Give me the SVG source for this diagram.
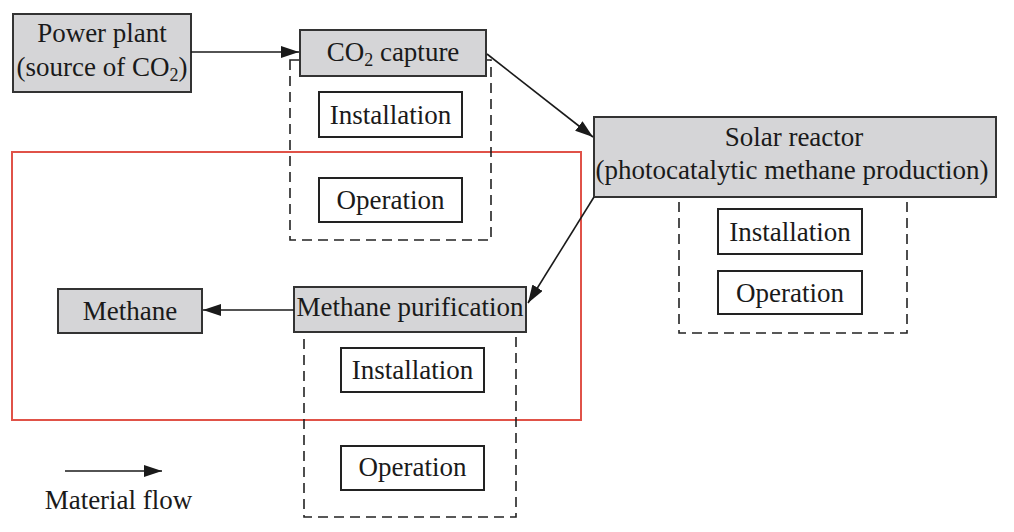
<svg xmlns="http://www.w3.org/2000/svg" width="1014" height="532" viewBox="0 0 1014 532">
<defs>
<marker id="ah" markerUnits="userSpaceOnUse" markerWidth="20" markerHeight="12" refX="18" refY="6" orient="auto">
<path d="M0,0 L18,6 L0,12 z" fill="#1a1a1a"/>
</marker>
</defs>
<rect x="12" y="152" width="569" height="268" fill="none" stroke="#e05248" stroke-width="2"/>
<g fill="none" stroke="#222" stroke-width="1.6" stroke-dasharray="10,6">
<rect x="290" y="60" width="201" height="180"/>
<rect x="679" y="190" width="228" height="143"/>
<rect x="304" y="325" width="212" height="192"/>
</g>
<g font-family="Liberation Serif" font-size="27" fill="#1a1a1a" text-anchor="middle">
<g id="co2-capture">
<rect x="300" y="30" width="186" height="46" fill="#d5d5d7" stroke="#333" stroke-width="2"/>
<text x="393" y="61">CO<tspan font-size="18" dy="5">2</tspan><tspan dy="-5"> capture</tspan></text>
<rect x="319" y="92" width="143" height="45" fill="#fff" stroke="#222" stroke-width="2"/>
<text x="390.5" y="124">Installation</text>
<rect x="319" y="178" width="143" height="44" fill="#fff" stroke="#222" stroke-width="2"/>
<text x="390.5" y="209">Operation</text>
</g>
<g id="power-plant">
<rect x="13" y="14" width="178" height="78" fill="#d5d5d7" stroke="#333" stroke-width="2"/>
<text x="102" y="42">Power plant</text>
<text x="102" y="76">(source of CO<tspan font-size="18" dy="5">2</tspan><tspan dy="-5">)</tspan></text>
</g>
<g id="solar-reactor">
<rect x="594" y="117" width="402" height="80" fill="#d5d5d7" stroke="#333" stroke-width="2"/>
<text x="794" y="146">Solar reactor</text>
<text x="792" y="179">(photocatalytic methane production)</text>
<rect x="718" y="209" width="144" height="45" fill="#fff" stroke="#222" stroke-width="2"/>
<text x="790" y="241">Installation</text>
<rect x="718" y="271" width="144" height="43" fill="#fff" stroke="#222" stroke-width="2"/>
<text x="790" y="302">Operation</text>
</g>
<g id="methane-purification">
<rect x="294" y="287" width="232" height="45" fill="#d5d5d7" stroke="#333" stroke-width="2"/>
<text x="410" y="316">Methane purification</text>
<rect x="341" y="348" width="143" height="44" fill="#fff" stroke="#222" stroke-width="2"/>
<text x="412.5" y="379">Installation</text>
<rect x="341" y="446" width="143" height="44" fill="#fff" stroke="#222" stroke-width="2"/>
<text x="412.5" y="476">Operation</text>
</g>
<g id="methane">
<rect x="58" y="289" width="144" height="44" fill="#d5d5d7" stroke="#333" stroke-width="2"/>
<text x="130" y="320">Methane</text>
</g>
<g id="legend">
<text x="118.5" y="509">Material flow</text>
</g>
</g>
<g id="connectors" fill="none" stroke="#1a1a1a" stroke-width="1.6" marker-end="url(#ah)">
<line x1="191" y1="52" x2="299" y2="52"/>
<line x1="487" y1="54" x2="593" y2="137"/>
<line x1="594" y1="197" x2="528" y2="303"/>
<line x1="294" y1="310" x2="203" y2="310"/>
<line x1="65" y1="471" x2="162" y2="471"/>
</g>
</svg>
